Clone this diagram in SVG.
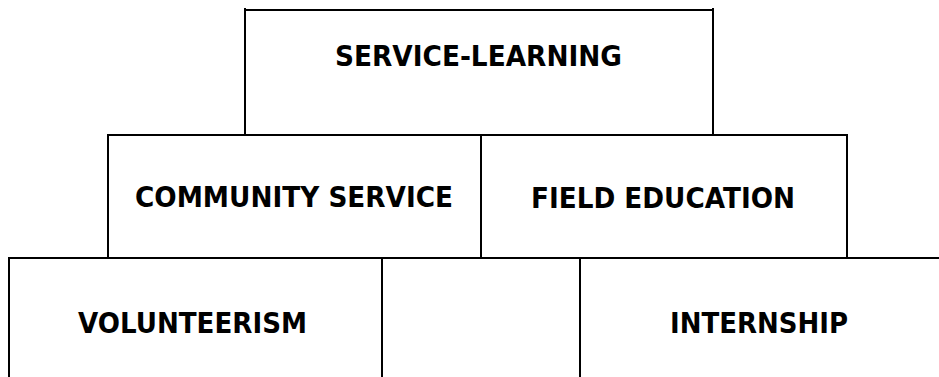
<svg xmlns="http://www.w3.org/2000/svg" width="939" height="377" viewBox="0 0 939 377">
  <style>
    .edge { fill: none; stroke: #000; stroke-width: 2; stroke-linecap: square; }
    .label { font-family: "DejaVu Sans", Verdana, sans-serif; font-weight: bold; font-size: 28px; fill: #000; text-anchor: middle; }
  </style>
  <rect width="939" height="377" fill="#fff"/>

  <!-- shared tier rules -->
  <g id="connectors">
    <path class="edge" d="M245,10 H713"/>
    <path class="edge" d="M108,135 H847"/>
    <path class="edge" d="M9,258 H939"/>
  </g>

  <g id="service-learning">
    <path class="edge" d="M245,9 V135 M713,9 V135"/>
    <text class="label" x="478.5" y="66" textLength="287" lengthAdjust="spacingAndGlyphs">SERVICE-LEARNING</text>
  </g>

  <g id="community-service">
    <path class="edge" d="M108,135 V258 M481,135 V258"/>
    <text class="label" x="294" y="207" textLength="318" lengthAdjust="spacingAndGlyphs">COMMUNITY SERVICE</text>
  </g>

  <g id="field-education">
    <path class="edge" d="M847,135 V258"/>
    <text class="label" x="663" y="208" textLength="264" lengthAdjust="spacingAndGlyphs">FIELD EDUCATION</text>
  </g>

  <g id="volunteerism">
    <path class="edge" d="M9,258 V377 M382,258 V377"/>
    <text class="label" x="192.5" y="333" textLength="229" lengthAdjust="spacingAndGlyphs">VOLUNTEERISM</text>
  </g>

  <g id="middle-cell">
    <path class="edge" d="M580,258 V377"/>
  </g>

  <g id="internship">
    <text class="label" x="759" y="333" textLength="178" lengthAdjust="spacingAndGlyphs">INTERNSHIP</text>
  </g>
</svg>
